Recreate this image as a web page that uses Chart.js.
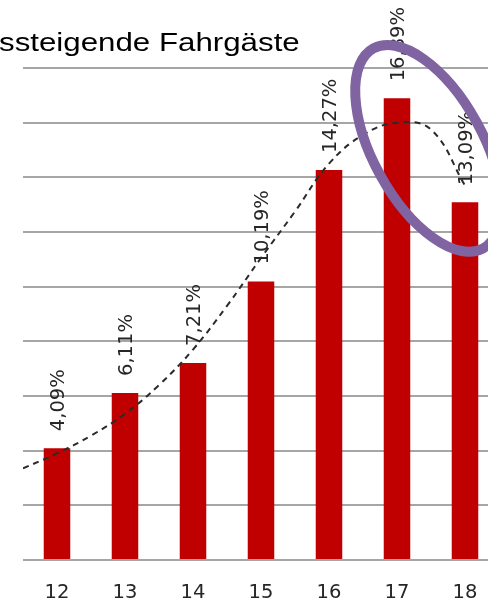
<!DOCTYPE html>
<html>
<head>
<meta charset="utf-8">
<script src="https://cdn.jsdelivr.net/npm/chart.js@4/dist/chart.umd.min.js"></script>
<style>
  html, body { margin: 0; padding: 0; background: #fff; overflow: hidden; }
  #wrap { position: relative; width: 488px; height: 606px; overflow: hidden; }
  canvas { position: absolute; left: 0; top: 0; }
</style>
</head>
<body>
<div id="wrap"><canvas id="chart" width="540" height="628"></canvas></div>
<script>
// Share of alighting passengers per hour of day
const chartTitle = 'Aussteigende Fahrgäste';
const hours = ['12', '13', '14', '15', '16', '17', '18'];
const shares = [4.09, 6.11, 7.21, 10.19, 14.27, 16.89, 13.09];

// Polynomial trend line, sampled at half-hour steps
const trendHours = [11.5, 12, 12.5, 13, 13.5, 14, 14.5, 15, 15.5, 16, 16.5, 17, 17.5, 18];
const trendShares = [3.35, 3.9, 4.55, 5.35, 6.4, 7.7, 9.3, 11.05, 12.75, 14.5, 15.55, 16.0, 15.75, 13.7];

// Highlight ring around the evening peak (hour, share)
const highlightAt = [17.46, 15.06];

const fmtShare = v => v.toFixed(2).replace('.', ',') + '%';

const titlePlugin = {
  id: 'stretchedTitle',
  afterDraw(chart) {
    const ctx = chart.ctx;
    const sx = 1.18;
    ctx.save();
    ctx.font = '26.5px "Liberation Sans", Arial, sans-serif';
    ctx.fillStyle = '#000';
    ctx.textBaseline = 'alphabetic';
    const wAu = ctx.measureText('Au').width * sx;
    ctx.translate(-1 - wAu, 51);
    ctx.scale(sx, 1);
    ctx.fillText(chartTitle, 0, 0);
    ctx.restore();
  }
};

const valueLabels = {
  id: 'valueLabels',
  afterDatasetsDraw(chart) {
    const ctx = chart.ctx;
    const meta = chart.getDatasetMeta(1);
    ctx.save();
    ctx.font = '19.5px "DejaVu Sans", sans-serif';
    ctx.fillStyle = '#262626';
    ctx.textAlign = 'left';
    ctx.textBaseline = 'middle';
    meta.data.forEach((bar, i) => {
      ctx.save();
      ctx.translate(bar.x + 2, bar.y - 17);
      ctx.rotate(-Math.PI / 2);
      ctx.fillText(fmtShare(shares[i]), 0, 0);
      ctx.restore();
    });
    ctx.restore();
  }
};

const ring = {
  id: 'ring',
  afterDraw(chart) {
    const ctx = chart.ctx;
    const cx = chart.scales.x2.getPixelForValue(highlightAt[0]);
    const cy = chart.scales.y.getPixelForValue(highlightAt[1]);
    ctx.save();
    ctx.strokeStyle = '#8064A2';
    ctx.lineWidth = 10;
    ctx.beginPath();
    ctx.ellipse(cx, cy, 114, 55, 61.2 * Math.PI / 180, 0, Math.PI * 2);
    ctx.stroke();
    ctx.restore();
  }
};

new Chart(document.getElementById('chart'), {
  type: 'bar',
  data: {
    labels: hours,
    datasets: [
      {
        type: 'line',
        label: 'Trend',
        xAxisID: 'x2',
        data: trendHours.map((h, i) => ({ x: h, y: trendShares[i] })),
        borderColor: '#2a2a2a',
        borderWidth: 2,
        borderDash: [6, 5],
        pointRadius: 0,
        tension: 0.4,
        fill: false,
        order: 0
      },
      {
        type: 'bar',
        label: 'Aussteigende Fahrgäste',
        data: shares,
        backgroundColor: '#C00000',
        borderWidth: 0,
        grouped: false,
        categoryPercentage: 1,
        barPercentage: 0.39,
        order: 1
      }
    ]
  },
  options: {
    responsive: false,
    animation: false,
    devicePixelRatio: 1,
    layout: { padding: { left: 23, right: 41, top: 68, bottom: 2.6 } },
    plugins: {
      legend: { display: false },
      title: { display: false },
      tooltip: { enabled: false }
    },
    scales: {
      x: {
        type: 'category',
        offset: true,
        grid: { display: false, drawTicks: false },
        border: { display: false },
        ticks: {
          padding: 21,
          color: '#262626',
          font: { family: '"DejaVu Sans", sans-serif', size: 19.5 }
        }
      },
      x2: {
        type: 'linear',
        min: 11.5,
        max: 18.5,
        offset: false,
        display: false,
        grid: { display: false, drawTicks: false, offset: false },
        border: { display: false },
        ticks: { display: false }
      },
      y: {
        min: 0,
        max: 18,
        ticks: { stepSize: 2, display: false },
        grid: { color: '#a6a6a6', lineWidth: 2, drawTicks: false },
        border: { display: false }
      }
    }
  },
  plugins: [valueLabels, ring, titlePlugin]
});
</script>
</body>
</html>
